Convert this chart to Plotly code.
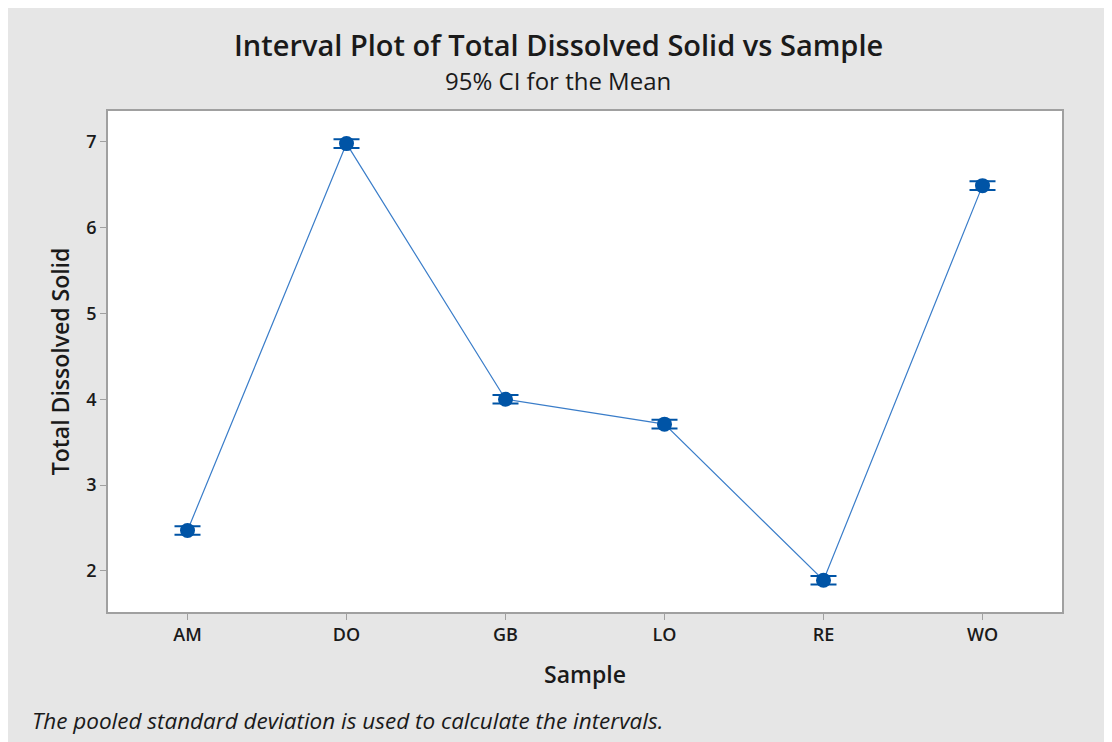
import plotly.graph_objects as go

samples = ["AM", "DO", "GB", "LO", "RE", "WO"]
means = [2.47, 6.98, 4.00, 3.71, 1.89, 6.49]
ci_half = [0.05, 0.05, 0.05, 0.05, 0.05, 0.05]
y_ticks = [2, 3, 4, 5, 6, 7]

font_family = "Open Sans, Noto Sans, DejaVu Sans, sans-serif"
txt = "#1A1A1A"

fig = go.Figure()
fig.add_trace(go.Scatter(
    x=samples, y=means, mode="lines",
    line=dict(color="#3A7DC9", width=1.2),
    hoverinfo="skip", showlegend=False,
))
fig.add_trace(go.Scatter(
    x=samples, y=means, mode="markers",
    marker=dict(color="#0054A6", size=15, symbol="circle"),
    error_y=dict(type="data", array=ci_half, visible=True,
                 color="#0054A6", thickness=2, width=13),
    showlegend=False,
))

fig.update_layout(
    width=1104, height=734,
    paper_bgcolor="#E6E6E6", plot_bgcolor="#FFFFFF",
    margin=dict(l=100, r=50, t=103, b=130),
    font=dict(family=font_family, color=txt),
    showlegend=False,
)
fig.update_xaxes(
    type="category", range=[-0.5, 5.5],
    showline=True, linecolor="#A0A0A0", linewidth=1.5, mirror=True,
    ticks="outside", ticklen=6, tickcolor="#A0A0A0",
    showgrid=False, zeroline=False,
    tickfont=dict(size=18, color=txt, weight=600),
    title=dict(text="Sample", font=dict(size=23, color=txt, weight=600), standoff=22),
)
fig.update_yaxes(
    range=[1.52, 7.36], tickvals=y_ticks,
    showline=True, linecolor="#A0A0A0", linewidth=1.5, mirror=True,
    ticks="outside", ticklen=6, tickcolor="#A0A0A0",
    showgrid=False, zeroline=False,
    tickfont=dict(size=18, color=txt, weight=600),
    title=dict(text="Total Dissolved Solid", font=dict(size=23, color=txt, weight=600), standoff=10),
)

fig.add_annotation(text="Interval Plot of Total Dissolved Solid vs Sample",
                   xref="paper", yref="paper", x=0.5, xshift=-27, y=1.0, yshift=67,
                   xanchor="center", yanchor="middle", showarrow=False,
                   font=dict(size=29, color=txt, weight=600))
fig.add_annotation(text="95% CI for the Mean",
                   xref="paper", yref="paper", x=0.5, xshift=-27, y=1.0, yshift=31,
                   xanchor="center", yanchor="middle", showarrow=False,
                   font=dict(size=24, color=txt, weight=500))
fig.add_annotation(text="<i>The pooled standard deviation is used to calculate the intervals.</i>",
                   xref="paper", yref="paper", x=0, xshift=-78, y=0, yshift=-108,
                   xanchor="left", yanchor="middle", showarrow=False,
                   font=dict(size=22.5, color=txt))

fig.write_html("out.html")
